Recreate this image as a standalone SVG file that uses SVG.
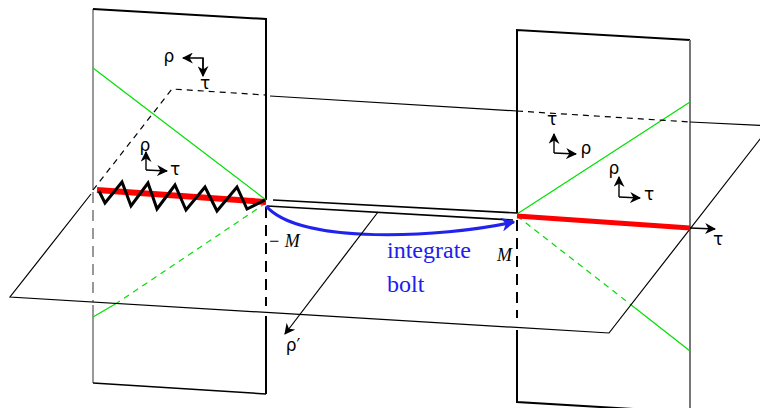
<svg xmlns="http://www.w3.org/2000/svg" width="760" height="408" viewBox="0 0 760 408">
<style>
.thin{fill:none;stroke:#000;stroke-width:1.2}
.edge{fill:none;stroke:#000;stroke-width:2}
.grey{fill:none;stroke:#777;stroke-width:2}
.dash{stroke-dasharray:11,7}
.sdash{stroke-dasharray:6,5}
.green{fill:none;stroke:#00e000;stroke-width:1.2}
.red{fill:none;stroke:#ff0000}
.lab{font-family:"DejaVu Sans",sans-serif;font-size:17px;fill:#000}
.it{font-family:"Liberation Serif",serif;font-style:italic;font-size:18px;fill:#000}
.blue{font-family:"Liberation Serif",serif;font-size:24px;fill:#2020ee}
.ax{fill:none;stroke:#000;stroke-width:1.4}
</style>
<defs>
<marker id="ah" viewBox="0 0 10 10" refX="9" refY="5" markerWidth="11" markerHeight="11" markerUnits="userSpaceOnUse" orient="auto"><path d="M0,0 L10,5 L0,10 L3,5 z" fill="#000"/></marker>
<marker id="ahb" viewBox="0 0 10 10" refX="9" refY="5" markerWidth="14" markerHeight="14" markerUnits="userSpaceOnUse" orient="auto"><path d="M0,0 L10,5 L0,10 L3,5 z" fill="#2222ee"/></marker>
</defs>
<g id="plane-left">
<path class="grey" style="stroke-width:1.5" d="M93,9 V190"/>
<path class="grey dash" style="stroke-width:1.5" d="M93,192 V302"/>
<path class="grey" style="stroke-width:1.5" d="M93,305 V383"/>
<path class="edge" style="stroke-width:1.5" d="M93,383 L266,394"/>
<path class="edge" d="M93,9 L266,19 V200"/>
<path class="edge dash" d="M266,207 V306"/>
<path class="edge" d="M266,316 V394"/>
<path class="green" d="M93,68 L266,200"/>
<path class="green sdash" d="M266,203 L117,303"/>
<path class="green" d="M117,303 L93,317"/>
</g>
<g id="plane-right">
<path class="edge" d="M517,213 V30 L690,40"/>
<path class="edge dash" d="M517,220 V318"/>
<path class="edge" d="M517,330 V402 L700,413"/>
<path class="grey" d="M690,40 V408"/>
<path class="green" d="M517,214 L690,102"/>
<path class="green sdash" d="M517,216 L630,304"/>
<path class="green" d="M630,304 L690,351"/>
</g>
<g id="plane-horizontal">
<path class="thin" d="M91,194 L10,297 L609,333 L771,125"/>
<path class="thin sdash" d="M93,190 L172,89 L266,95"/>
<path class="thin" d="M270,96 L517,111"/>
<path class="thin sdash" d="M517,111 L690,122"/>
<path class="thin" d="M690,122 L771,126"/>
</g>
<g id="connectors">
<path class="red" stroke-width="6" d="M97,190 L266,202"/>
<path class="red" stroke-width="5" d="M517,216 L690,228"/>
<path fill="none" stroke="#000" stroke-width="3" stroke-linejoin="miter" d="M99,191 L105,203 L122,182 L131,206 L148,183 L157,209 L175,185 L186,210 L205,187 L217,211 L237,187 L247,209 L265,200"/>
<path class="edge" style="stroke-width:1.6" d="M273,200 L517,213"/>
<path class="edge" style="stroke-width:1.6" d="M267,206 L513,220"/>
<path fill="none" stroke="#2222ee" stroke-width="3" d="M266,206 C300,245 440,238 514,222" marker-end="url(#ahb)"/>
<path class="thin" d="M378,212 L285,334" marker-end="url(#ah)"/>
<path class="ax" d="M690,228 L715,229" marker-end="url(#ah)"/>
<path class="ax" d="M203,74 V58 H183" marker-end="url(#ah)"/>
<path class="ax" d="M203,58 V76" marker-end="url(#ah)"/>
<path class="ax" d="M146,170 V152" marker-end="url(#ah)"/>
<path class="ax" d="M146,170 L167,171" marker-end="url(#ah)"/>
<path class="ax" d="M554,153 V134" marker-end="url(#ah)"/>
<path class="ax" d="M554,153 L576,154" marker-end="url(#ah)"/>
<path class="ax" d="M619,197 V177" marker-end="url(#ah)"/>
<path class="ax" d="M619,197 L640,198" marker-end="url(#ah)"/>
</g>
<g id="labels">
<text class="lab" x="169" y="62" text-anchor="middle">ρ</text>
<text class="lab" x="205" y="89" text-anchor="middle">τ</text>
<text class="lab" x="145" y="151" text-anchor="middle">ρ</text>
<text class="lab" x="175" y="175" text-anchor="middle">τ</text>
<text class="lab" x="552" y="125" text-anchor="middle">τ</text>
<text class="lab" x="586" y="154" text-anchor="middle">ρ</text>
<text class="lab" x="614" y="174" text-anchor="middle">ρ</text>
<text class="lab" x="649" y="200" text-anchor="middle">τ</text>
<text class="lab" x="718" y="245" text-anchor="middle">τ</text>
<text class="lab" x="293" y="351" text-anchor="middle">ρ′</text>
<text class="it" x="268" y="247">− M</text>
<text class="it" x="497" y="261">M</text>
<text class="blue" x="387" y="258">integrate</text>
<text class="blue" x="387" y="292">bolt</text>
</g>
</svg>
